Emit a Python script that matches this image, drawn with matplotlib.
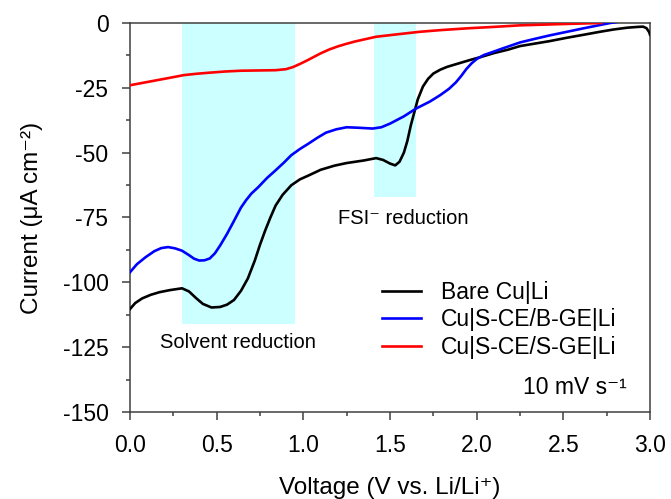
import matplotlib
matplotlib.use("Agg")
import matplotlib.pyplot as plt
from matplotlib.ticker import MultipleLocator, FormatStrFormatter

plt.rcParams['font.family'] = ['Liberation Sans', 'DejaVu Sans']
plt.rcParams['axes.unicode_minus'] = False

# ---- data ----
bare_v = [0.00, 0.03, 0.07, 0.12, 0.17, 0.23, 0.30, 0.34, 0.38, 0.42, 0.47, 0.52, 0.56, 0.60,
          0.64, 0.68, 0.72, 0.75, 0.78, 0.81, 0.84, 0.88, 0.93, 0.98, 1.03, 1.10, 1.18, 1.25,
          1.35, 1.42, 1.46, 1.50, 1.53, 1.555, 1.58, 1.60, 1.62, 1.64, 1.66, 1.69, 1.72, 1.75,
          1.79, 1.83, 1.90, 1.96, 2.03, 2.10, 2.18, 2.25, 2.33, 2.42, 2.52, 2.62, 2.71, 2.79,
          2.87, 2.93, 2.96, 2.98, 2.995, 3.00]
bare_i = [-110.3, -108.0, -106.2, -104.8, -103.8, -103.0, -102.3, -103.5, -106.0, -108.3,
          -109.7, -109.5, -108.6, -106.8, -103.3, -98.5, -91.6, -85.5, -80.0, -75.0, -70.4,
          -66.3, -62.6, -60.3, -58.8, -56.6, -55.0, -54.0, -53.0, -52.1, -52.8, -54.2, -54.9,
          -53.5, -50.0, -45.5, -39.5, -34.5, -29.5, -24.5, -21.5, -19.5, -18.0, -16.9, -15.5,
          -14.3, -13.0, -11.6, -10.3, -8.9, -8.0, -7.0, -5.7, -4.5, -3.4, -2.5, -1.8, -1.5,
          -1.4, -2.0, -3.5, -4.5]

bge_v = [0.00, 0.04, 0.09, 0.14, 0.18, 0.22, 0.26, 0.30, 0.34, 0.37, 0.40, 0.43, 0.46, 0.49,
         0.52, 0.56, 0.60, 0.64, 0.67, 0.70, 0.74, 0.79, 0.84, 0.89, 0.93, 0.98, 1.03, 1.08,
         1.13, 1.19, 1.25, 1.32, 1.40, 1.45, 1.50, 1.58, 1.65, 1.73, 1.79, 1.84, 1.88, 1.91,
         1.94, 1.97, 2.00, 2.04, 2.10, 2.15, 2.25, 2.33, 2.42, 2.52, 2.62, 2.71, 2.77, 2.82]
bge_i = [-96.1, -93.0, -90.3, -88.0, -86.8, -86.4, -86.9, -87.8, -89.5, -90.9, -91.6, -91.5,
         -90.8, -88.8, -85.8, -81.3, -76.3, -71.2, -68.3, -65.8, -63.3, -59.8, -56.8, -53.7,
         -51.0, -48.6, -46.5, -44.3, -42.3, -41.0, -40.2, -40.4, -40.7, -40.2, -38.8, -36.0,
         -33.0, -30.3, -27.8, -25.4, -22.9, -20.5, -17.8, -15.6, -13.9, -12.4, -11.0, -9.8,
         -7.5, -6.2, -4.8, -3.4, -2.0, -0.8, 0.0, 0.5]

sge_v = [0.00, 0.08, 0.16, 0.24, 0.31, 0.38, 0.45, 0.55, 0.64, 0.74, 0.84, 0.90, 0.94, 0.98,
         1.02, 1.06, 1.10, 1.15, 1.20, 1.25, 1.30, 1.36, 1.42, 1.55, 1.67, 1.80, 1.96, 2.10,
         2.25, 2.40, 2.55, 2.72]
sge_i = [-24.0, -23.0, -22.0, -21.0, -20.1, -19.6, -19.2, -18.7, -18.4, -18.3, -18.2, -17.8,
         -17.0, -15.8, -14.5, -13.1, -11.7, -10.2, -9.0, -8.0, -7.1, -6.2, -5.3, -4.3, -3.4,
         -2.7, -2.0, -1.5, -0.9, -0.6, -0.3, 0.0]

labels = ['Bare Cu|Li', 'Cu|S-CE/B-GE|Li', 'Cu|S-CE/S-GE|Li']
colors = ['#000000', '#0000ff', '#ff0000']

solvent_band = (0.30, 0.95, -116)
fsi_band = (1.41, 1.65, -67)

fig = plt.figure(figsize=(6.71, 4.99), dpi=100)
ax = fig.add_axes([130/671, 87/499, 520/671, 389/499])

ax.fill_between([solvent_band[0], solvent_band[1]], solvent_band[2], 0,
                color='#ccffff', lw=0, zorder=0)
ax.fill_between([fsi_band[0], fsi_band[1]], fsi_band[2], 0,
                color='#ccffff', lw=0, zorder=0)

for v, i, lab, c in zip([bare_v, bge_v, sge_v], [bare_i, bge_i, sge_i], labels, colors):
    ax.plot(v, i, color=c, lw=1.9, label=lab, zorder=3, solid_joinstyle='round')

ax.set_xlim(0, 3.0)
ax.set_ylim(-150, 0)
ax.xaxis.set_major_locator(MultipleLocator(0.5))
ax.xaxis.set_minor_locator(MultipleLocator(0.25))
ax.yaxis.set_major_locator(MultipleLocator(25))
ax.yaxis.set_minor_locator(MultipleLocator(12.5))
ax.xaxis.set_major_formatter(FormatStrFormatter('%.1f'))

spc = '#404040'
for s in ax.spines.values():
    s.set_color(spc)
    s.set_linewidth(1.1)
ax.tick_params(which='major', direction='out', length=5.5, width=1.1, color=spc,
               labelsize=16.5, pad=10, top=False, right=False)
ax.tick_params(which='minor', direction='out', length=3, width=1.1, color=spc,
               top=False, right=False)

ax.set_xlabel('Voltage (V vs. Li/Li⁺)', fontsize=17.5, labelpad=15)
ax.set_ylabel('Current (μA cm⁻²)', fontsize=17.5, labelpad=14)

ax.text(0.62, -123.3, 'Solvent reduction', fontsize=14.5, ha='center', va='center')
ax.text(1.2, -75.5, 'FSI⁻ reduction', fontsize=14.5, ha='left', va='center')
ax.text(0.956, 0.064, '10 mV s⁻¹', fontsize=16.5, ha='right', va='center',
        transform=ax.transAxes)

ax.legend(loc='upper left', bbox_to_anchor=(0.485, 0.337), frameon=False, fontsize=16.5,
          handlelength=1.7, handletextpad=0.85, labelspacing=0.2, borderpad=0,
          borderaxespad=0)

fig.savefig('out.png', dpi=100)
